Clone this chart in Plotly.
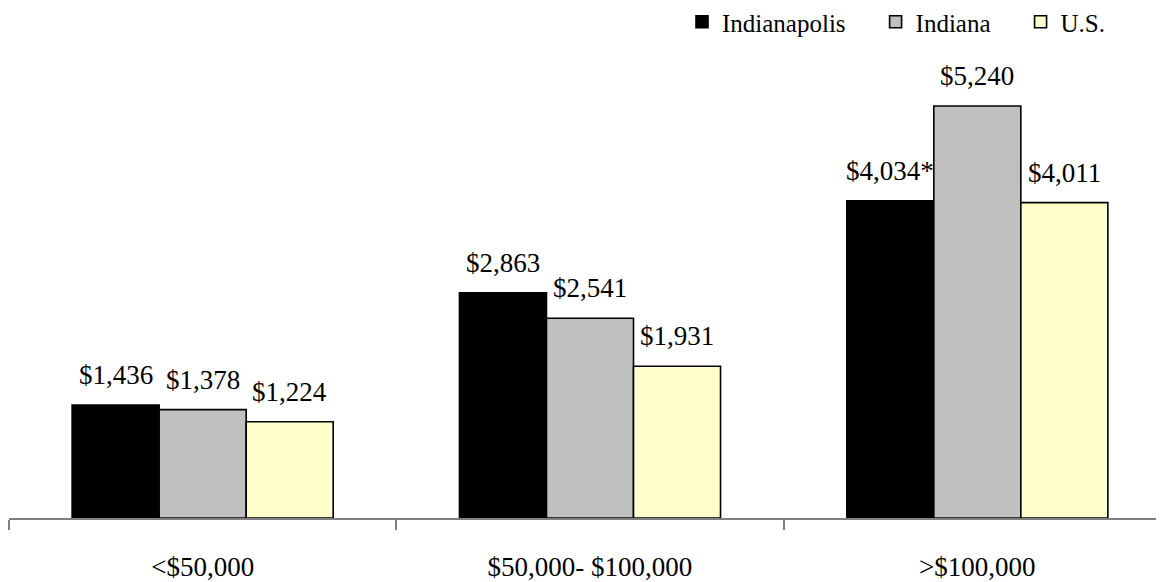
import plotly.graph_objects as go

categories = ["<$50,000", "$50,000- $100,000", ">$100,000"]
series_names = ["Indianapolis", "Indiana", "U.S."]
indianapolis = [1436, 2863, 4034]
indiana = [1378, 2541, 5240]
us = [1224, 1931, 4011]
indianapolis_notes = ["", "", "*"]
indiana_notes = ["", "", ""]
us_notes = ["", "", ""]

colors = ["#000000", "#C0C0C0", "#FFFFCC"]
FONT = "Liberation Serif"
BARGAP = 0.326
OFF = 8  # page body margin

series = [indianapolis, indiana, us]
notes = [indianapolis_notes, indiana_notes, us_notes]

fig = go.Figure()
for name, vals, col in zip(series_names, series, colors):
    fig.add_trace(go.Bar(
        x=categories, y=vals, name=name + "&nbsp;&nbsp;&nbsp;&nbsp;",
        marker=dict(color=col, line=dict(color="#000000", width=1.6)),
        hoverinfo="skip",
    ))

n = len(series)
w = (1 - BARGAP) / n
annotations = []
for j, (vals, nts) in enumerate(zip(series, notes)):
    for i, (v, nt) in enumerate(zip(vals, nts)):
        annotations.append(dict(
            x=i + (j - (n - 1) / 2) * w, y=v, xref="x", yref="y",
            text="${:,}{}".format(v, nt), showarrow=False,
            xanchor="center", yanchor="bottom", yshift=13,
            font=dict(family=FONT, size=27, color="#000000"),
        ))

W, H = 1164 - OFF, 582 - OFF
fig.update_layout(
    template="none",
    width=W, height=H,
    margin=dict(l=9 - OFF, r=0, t=40 - OFF, b=64, autoexpand=False),
    paper_bgcolor="white", plot_bgcolor="white",
    barmode="group", bargap=BARGAP, bargroupgap=0,
    font=dict(family=FONT, size=25, color="#000000"),
    showlegend=True,
    legend=dict(
        orientation="h", xref="container", yref="container",
        x=(1136 - OFF) / W, xanchor="right", y=1 - (22 - OFF) / H, yanchor="middle",
        font=dict(family=FONT, size=25, color="#000000"),
        bgcolor="rgba(0,0,0,0)", traceorder="normal",
    ),
    annotations=annotations,
    xaxis=dict(
        type="category", range=[-0.5, 2.5 - 7 / 388], automargin=False,
        showline=True, linecolor="#808080", linewidth=1.5,
        ticks="outside", ticklen=10, tickcolor="#808080", tickwidth=1.5,
        tickson="boundaries", showgrid=False, zeroline=False,
        tickfont=dict(family=FONT, size=27, color="#000000"),
        ticklabelstandoff=24,
    ),
    yaxis=dict(range=[0, 6080], visible=False, showgrid=False, zeroline=False,
               automargin=False),
)

fig.write_html("out.html")
